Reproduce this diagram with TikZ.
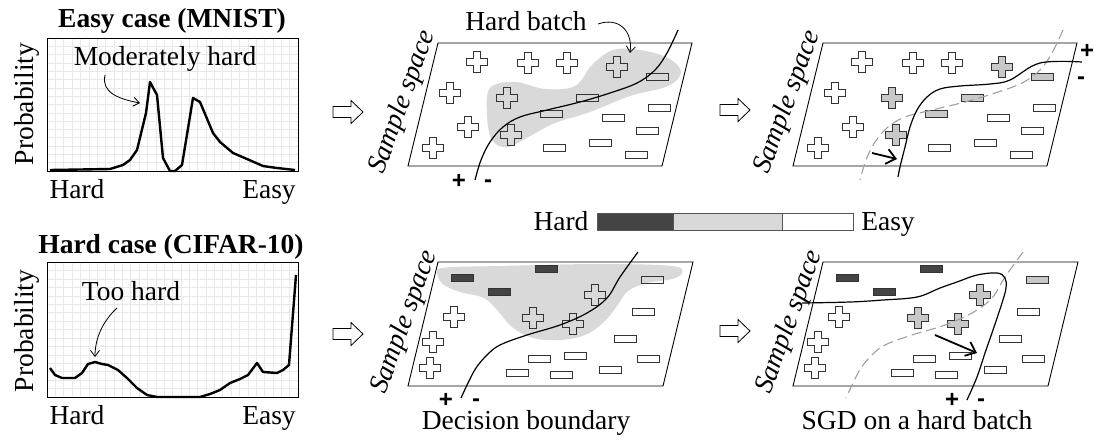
\documentclass[tikz,border=0pt]{standalone}
\usepackage{fontspec}
\setmainfont{Liberation Serif}
\newfontfamily\signfont{Liberation Sans}
\usetikzlibrary{arrows.meta}
\definecolor{blobgray}{HTML}{D9D9D9}
\definecolor{itemgray}{HTML}{C8C8C8}
\definecolor{darkitem}{HTML}{444444}
\definecolor{itemline}{HTML}{333333}
\definecolor{gridgray}{HTML}{E8E8E8}
\definecolor{dashgray}{HTML}{A0A0A0}
\definecolor{barline}{HTML}{555555}

\newcommand\drawTopItems[1]{%
  \foreach \x/\y in {477/62,528/63,567/63,450/93,468/127,433/148}
    \pic[item,fill=white] at (\x,\y) {plussign};
  \foreach \x/\y in {617/67,507/98,511/135}
    \pic[item,#1] at (\x,\y) {plussign};
  \foreach \x/\y in {657/77,587/98,551/114}
    \pic[item,#1] at (\x,\y) {minussign};
  \foreach \x/\y in {659/108,613/118,647/131,600/143,554/148,636/155}
    \pic[item,fill=white] at (\x,\y) {minussign};
}
\newcommand\drawBottomItems[1]{%
  \foreach \x/\y in {462/278,499/292,546/269}
    \pic[item,fill=darkitem] at (\x,\y) {minussign};
  \foreach \x/\y in {652/280}
    \pic[item,#1] at (\x,\y) {minussign};
  \foreach \x/\y in {595/295,533/318,573/324}
    \pic[item,#1] at (\x,\y) {plussign};
  \foreach \x/\y in {454/317,433/342,430/368}
    \pic[item,fill=white] at (\x,\y) {plussign};
  \foreach \x/\y in {643/312,625/339,539/359,575/356,648/359,517/373,561/375,610/370}
    \pic[item,fill=white] at (\x,\y) {minussign};
}

\begin{document}
\begin{tikzpicture}[x=1pt,y=-1pt,
  every node/.style={font=\fontsize{27.5}{33}\selectfont, inner sep=0pt, outer sep=0pt},
  title/.style={font=\fontsize{27.5}{33}\selectfont\bfseries, anchor=base},
  lbl/.style={anchor=base},
  ylab/.style={rotate=90, anchor=base},
  sspace/.style={font=\fontsize{27.5}{33}\selectfont\itshape, rotate=70},
  sign/.style={font=\fontsize{24}{28}\signfont\bfseries, anchor=base},
  frame/.style={draw=black, line width=0.9pt},
  gridl/.style={draw=gridgray, line width=0.5pt},
  curve/.style={line width=2.4pt, line join=round},
  para/.style={draw=black, line width=0.9pt, fill=white},
  boundary/.style={line width=1.2pt},
  oldboundary/.style={draw=dashgray, line width=1.1pt, dash pattern=on 10pt off 5pt},
  blob/.style={fill=blobgray, draw=none},
  item/.style={draw=itemline, line width=0.8pt},
  annot/.style={line width=0.8pt, -{Straight Barb[length=6pt,width=9pt]}},
  sgd/.style={line width=1.8pt, -{Straight Barb[length=9pt,width=15pt]}},
  hollow/.style={draw=black, line width=0.8pt, fill=white},
  plussign/.pic={\path[pic actions] (-3.8,-10.5) -- (3.8,-10.5) -- (3.8,-3.8) -- (10.5,-3.8) -- (10.5,3.8) -- (3.8,3.8) -- (3.8,10.5) -- (-3.8,10.5) -- (-3.8,3.8) -- (-10.5,3.8) -- (-10.5,-3.8) -- (-3.8,-3.8) -- cycle;},
  minussign/.pic={\path[pic actions] (-11,-3.7) rectangle (11,3.7);},
  blockarrow/.pic={\path[pic actions] (-15,-5.5) -- (3,-5.5) -- (3,-11.5) -- (15,0) -- (3,11.5) -- (3,5.5) -- (-15,5.5) -- cycle;},
]
\useasboundingbox (0,0) rectangle (1101,445);

% ---------------- Chart 1: MNIST ----------------
\node[title] (t1) at (172,27) {Easy case (MNIST)};
\foreach \i in {1,...,29} \draw[gridl] (47+\i*8.367,38) -- (47+\i*8.367,171);
\foreach \j in {1,...,15} \draw[gridl] (47,38+\j*8.31) -- (298,38+\j*8.31);
\draw[frame] (47,38) rectangle (298,171);
\node[ylab] (y1) at (33,104) {Probability};
\draw[curve] (50,170) -- (110,169) -- (123,165) -- (130,160) -- (137,150) -- (146,113) -- (150,82) -- (157,95) -- (163,158) -- (170,171) -- (175,171) -- (182,165) -- (193,98) -- (200,102) -- (213,133) -- (220,142) -- (233,153) -- (247,159) -- (263,166) -- (277,168) -- (295,170);
\node[lbl] (mh) at (165,65) {Moderately hard};
\coordinate (mhs) at (105,75);
\coordinate (mhe) at (140,103);
\draw[annot] (mhs) .. controls (101,92) and (118,99) .. (mhe);
\node[lbl] (h1) at (77,198) {Hard};
\node[lbl] (e1) at (269,198) {Easy};

% ---------------- Chart 2: CIFAR ----------------
\node[title] (t2) at (171,253) {Hard case (CIFAR-10)};
\foreach \i in {1,...,29} \draw[gridl] (47+\i*8.367,262) -- (47+\i*8.367,397);
\foreach \j in {1,...,15} \draw[gridl] (47,262+\j*8.44) -- (298,262+\j*8.44);
\draw[frame] (47,262) rectangle (298,397);
\node[ylab] (y2) at (33,331) {Probability};
\draw[curve] (50,368) -- (55,375) -- (62,378) -- (75,378) -- (82,373) -- (88,364) -- (95,362) -- (102,364) -- (108,365) -- (118,370) -- (127,378) -- (137,388) -- (147,395) -- (157,397) -- (200,397) -- (210,394) -- (220,390) -- (230,383) -- (240,379) -- (248,375) -- (257,363) -- (263,372) -- (277,373) -- (283,370) -- (289,365) -- (296,275);
\node[lbl] (th) at (131,300) {Too hard};
\coordinate (ths) at (117,308);
\coordinate (the) at (95,357);
\draw[annot] (ths) .. controls (103,321) and (95,338) .. (the);
\node[lbl] (h2) at (77,424) {Hard};
\node[lbl] (e2) at (269,424) {Easy};

% ---------------- hollow arrows ----------------
\pic[hollow] at (348,112) {blockarrow};
\pic[hollow] at (735,110) {blockarrow};
\pic[hollow] at (348,334) {blockarrow};
\pic[hollow] at (735,331) {blockarrow};

% ---------------- Panel 3: hard batch ----------------
\draw[para] (438,43) -- (692,43) -- (662,166) -- (408,166) -- cycle;
\node[sspace] (s3) at (403,102) {Sample space};
\fill[blob] plot[smooth cycle, tension=0.6] coordinates {(490,88) (515,82) (545,89) (575,86) (592,65) (613,50) (640,50) (668,58) (681,72) (668,86) (630,96) (590,112) (555,123) (532,135) (508,147) (492,140) (487,115)};
\drawTopItems{}
\draw[boundary] plot[smooth, tension=0.6] coordinates {(678,30) (667,53) (655,70) (637,83) (610,93) (580,102) (547,110) (520,117) (503,127) (490,142) (481,160) (475,180)};
\node[lbl] (hb) at (526,30) {Hard batch};
\coordinate (hbs) at (598,24);
\coordinate (hbe) at (630,53);
\draw[annot] (hbs) .. controls (618,17) and (633,30) .. (hbe);
\node[sign] (p3) at (459,188) {+};
\node[sign] (m3) at (488,187) {-};

% ---------------- Panel 4: after SGD ----------------
\begin{scope}[shift={(385,0)}]
\draw[para] (438,43) -- (692,43) -- (662,166) -- (408,166) -- cycle;
\node[sspace] (s4) at (403,102) {Sample space};
\drawTopItems{fill=itemgray}
\draw[oldboundary] plot[smooth, tension=0.6] coordinates {(678,30) (667,53) (655,70) (637,83) (610,93) (580,102) (547,110) (520,117) (503,127) (490,142) (481,160) (475,180)};
\end{scope}
\draw[boundary] plot[smooth, tension=0.6] coordinates {(1082,62) (1040,63) (1010,80) (990,84) (960,86) (940,89) (927,97) (917,110) (910,127) (905,147) (900,167) (898,177)};
\coordinate (a4s) at (872,153);
\coordinate (a4e) at (897,159);
\draw[sgd] (a4s) -- (a4e);
\node[sign] (p4) at (1087,58) {+};
\node[sign] (m4) at (1081,84) {-};

% ---------------- Colour bar ----------------
\node[lbl] (bh) at (561,230) {Hard};
\draw[draw=barline, line width=0.8pt, fill=darkitem] (597,213) rectangle (673,230);
\draw[draw=barline, line width=0.8pt, fill=blobgray] (673,213) rectangle (782,230);
\draw[draw=barline, line width=0.8pt, fill=white] (782,213) rectangle (853,230);
\node[lbl] (be) at (888,230) {Easy};

% ---------------- Panel 5: decision boundary ----------------
\draw[para] (438,262) -- (693,262) -- (663,386) -- (408,386) -- cycle;
\node[sspace] (s5) at (405,322) {Sample space};
\fill[blob] plot[smooth cycle, tension=0.6] coordinates {(442,268) (500,266) (600,264) (672,266) (682,273) (672,279) (647,283) (628,291) (617,306) (604,322) (585,335) (560,340) (533,338) (512,327) (498,311) (484,298) (460,292) (444,285) (438,276)};
\drawBottomItems{}
\draw[boundary] plot[smooth, tension=0.6] coordinates {(638,252) (620,277) (607,298) (587,313) (560,325) (527,335) (500,345) (487,355) (476,368) (468,383) (461,398)};
\node[sign] (p5) at (446,407) {+};
\node[sign] (m5) at (476,406) {-};
\node[lbl] (db) at (526,429) {Decision boundary};

% ---------------- Panel 6: SGD on hard batch ----------------
\begin{scope}[shift={(385,0)}]
\draw[para] (438,262) -- (693,262) -- (663,386) -- (408,386) -- cycle;
\node[sspace] (s6) at (405,322) {Sample space};
\drawBottomItems{fill=itemgray}
\draw[oldboundary] plot[smooth, tension=0.6] coordinates {(638,252) (620,277) (607,298) (587,313) (560,325) (527,335) (500,345) (487,355) (476,368) (468,383) (461,398)};
\end{scope}
\draw[boundary] plot[smooth, tension=0.6] coordinates {(802,303) (850,302) (883,300) (917,297) (940,288) (957,282) (977,275) (997,273) (1005,278) (1006,288) (1002,303) (993,330) (985,353) (977,377) (967,400)};
\coordinate (a6s) at (935,335);
\coordinate (a6e) at (977,353);
\draw[sgd] (a6s) -- (a6e);
\node[sign] (p6) at (952,407) {+};
\node[sign] (m6) at (981,406) {-};
\node[lbl] (sg) at (917,429) {SGD on a hard batch};
\end{tikzpicture}
\end{document}
